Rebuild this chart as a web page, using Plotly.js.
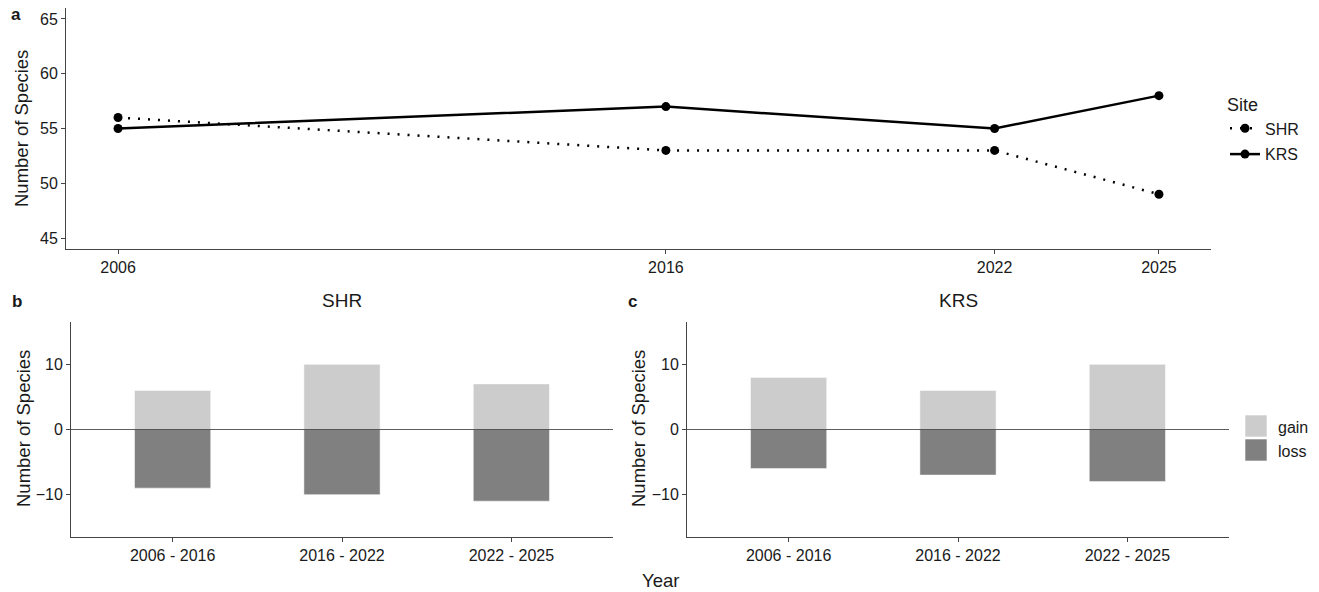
<!DOCTYPE html>
<html>
<head>
<meta charset="utf-8">
<script src="https://cdn.plot.ly/plotly-3.0.1.min.js"></script>
<style>
  html, body { margin: 0; padding: 0; background: #ffffff; }
  #chart { width: 1319px; height: 592px; }
</style>
</head>
<body>
<div id="chart"></div>
<script>
// Species counts per survey year at each site
const years = [2006, 2016, 2022, 2025];
const shrCount = [56, 53, 53, 49];
const krsCount = [55, 57, 55, 58];

// Species gained / lost between consecutive surveys
const periods = ["2006 - 2016", "2016 - 2022", "2022 - 2025"];
const shrGain = [6, 10, 7];
const shrLoss = [-9, -10, -11];
const krsGain = [8, 6, 10];
const krsLoss = [-6, -7, -8];

const countTicks = [45, 50, 55, 60, 65];
const changeTicks = [-10, 0, 10];
const changeKeys = ["gain", "loss"];

const W = 1319, H = 592;
const px = v => v / W;
const py = v => 1 - v / H;

const FONT = "Liberation Sans, Arial, sans-serif";
const INK = "#1a1a1a";
const GAIN = "#cccccc";
const LOSS = "#808080";
const KEY_FILL = { gain: GAIN, loss: LOSS };

function bars(x, y, name, color, xa, ya) {
  return {
    x: x, y: y, name: name, type: "bar", width: 0.45, showlegend: false,
    xaxis: xa, yaxis: ya,
    marker: { color: color, line: { color: "rgba(255,255,255,0.5)", width: 1 } }
  };
}

const traces = [
  {
    x: years, y: shrCount, name: "SHR", type: "scatter", mode: "lines+markers",
    xaxis: "x", yaxis: "y", legendgroup: "shr",
    line: { color: "#000", width: 2.5, dash: "2px,8px" },
    marker: { color: "#000", size: 9 }
  },
  {
    x: years, y: krsCount, name: "KRS", type: "scatter", mode: "lines+markers",
    xaxis: "x", yaxis: "y", legendgroup: "krs",
    line: { color: "#000", width: 2.5 },
    marker: { color: "#000", size: 9 }
  },
  bars(periods, shrGain, "gain", GAIN, "x2", "y2"),
  bars(periods, shrLoss, "loss", LOSS, "x2", "y2"),
  bars(periods, krsGain, "gain", GAIN, "x3", "y3"),
  bars(periods, krsLoss, "loss", LOSS, "x3", "y3")
];

const axisBase = {
  showline: true, linecolor: "#444", linewidth: 1,
  ticks: "outside", ticklen: 4, tickcolor: "#444", tickwidth: 1,
  showgrid: false, zeroline: false, fixedrange: true,
  tickfont: { family: FONT, size: 16, color: INK }
};

// Fill key for the gain / loss panels, drawn to the right of panel c
const keyShapes = [];
const keyLabels = [];
changeKeys.forEach((k, i) => {
  const top = 415 + i * 24;
  keyShapes.push({
    type: "rect", xref: "paper", yref: "paper", layer: "above",
    x0: px(1245), x1: px(1267), y0: py(top + 22), y1: py(top),
    fillcolor: KEY_FILL[k], line: { color: "rgba(255,255,255,0.6)", width: 1 }
  });
  keyLabels.push({ text: k, x: px(1276), y: py(top + 12), xanchor: "left", font: { size: 16 } });
});

const annotations = [
  { text: "<b>a</b>", x: px(16), y: py(15), font: { size: 17 } },
  { text: "<b>b</b>", x: px(17), y: py(301), font: { size: 17 } },
  { text: "<b>c</b>", x: px(632), y: py(301), font: { size: 17 } },
  { text: "SHR", x: px(342), y: py(300), font: { size: 19 } },
  { text: "KRS", x: px(958), y: py(300), font: { size: 19 } },
  { text: "Year", x: px(660), y: py(580), font: { size: 18.5 } },
  { text: "Number of Species", x: px(22), y: py(129), textangle: -90, font: { size: 18.5 } },
  { text: "Number of Species", x: px(23), y: py(429), textangle: -90, font: { size: 18.5 } },
  { text: "Number of Species", x: px(638), y: py(429), textangle: -90, font: { size: 18.5 } }
].concat(keyLabels).map(a => Object.assign({
  xref: "paper", yref: "paper", showarrow: false, xanchor: "center", yanchor: "middle"
}, a, { font: Object.assign({ family: FONT, color: INK, size: 16 }, a.font || {}) }));

const layout = {
  width: W, height: H,
  margin: { l: 0, r: 0, t: 0, b: 0 },
  paper_bgcolor: "#fff", plot_bgcolor: "#fff",
  font: { family: FONT, color: INK },
  barmode: "relative",
  xaxis: Object.assign({}, axisBase, {
    domain: [px(66), px(1211)], anchor: "y",
    range: [2005.05, 2025.95], tickmode: "array", tickvals: years, ticktext: years.map(String)
  }),
  yaxis: Object.assign({}, axisBase, {
    domain: [py(249), py(8)], anchor: "x",
    range: [44, 66], tickmode: "array", tickvals: countTicks
  }),
  xaxis2: Object.assign({}, axisBase, {
    domain: [px(71), px(613)], anchor: "y2", type: "category", range: [-0.6, 2.6]
  }),
  yaxis2: Object.assign({}, axisBase, {
    domain: [py(537), py(322)], anchor: "x2",
    range: [-16.5, 16.5], tickmode: "array", tickvals: changeTicks
  }),
  xaxis3: Object.assign({}, axisBase, {
    domain: [px(687), px(1229)], anchor: "y3", type: "category", range: [-0.6, 2.6]
  }),
  yaxis3: Object.assign({}, axisBase, {
    domain: [py(537), py(322)], anchor: "x3",
    range: [-16.5, 16.5], tickmode: "array", tickvals: changeTicks
  }),
  legend: {
    x: px(1225), y: py(88), xanchor: "left", yanchor: "top",
    bgcolor: "rgba(0,0,0,0)", itemwidth: 30, tracegroupgap: 2,
    title: { text: "Site", font: { family: FONT, size: 18, color: INK } },
    font: { family: FONT, size: 16, color: INK }
  },
  shapes: [
    { type: "line", layer: "above", xref: "x2 domain", yref: "y2", x0: 0, x1: 1, y0: 0, y1: 0,
      line: { color: "rgba(40,40,40,0.75)", width: 1.2 } },
    { type: "line", layer: "above", xref: "x3 domain", yref: "y3", x0: 0, x1: 1, y0: 0, y1: 0,
      line: { color: "rgba(40,40,40,0.75)", width: 1.2 } }
  ].concat(keyShapes),
  annotations: annotations
};

Plotly.newPlot("chart", traces, layout, { displayModeBar: false, staticPlot: true });
</script>
</body>
</html>
